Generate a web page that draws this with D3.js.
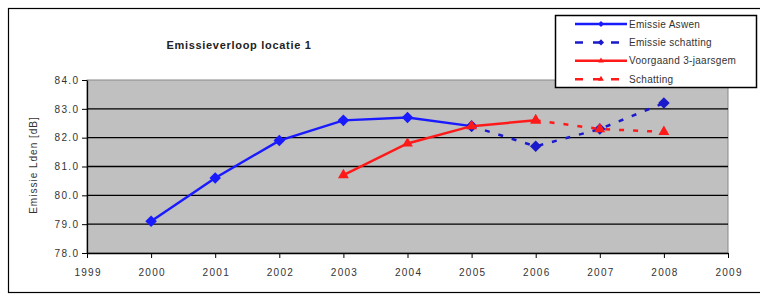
<!DOCTYPE html>
<html>
<head>
<meta charset="utf-8">
<script src="https://cdn.jsdelivr.net/npm/d3@7"></script>
<style>
  body { margin: 0; background: #fff; }
  svg { display: block; font-family: Arial, "Liberation Sans", sans-serif; }
</style>
</head>
<body>
<div id="chart"></div>
<script>
// data
const aswenJaren = [2000, 2001, 2002, 2003, 2004, 2005];
const aswenWaarden = [79.1, 80.6, 81.9, 82.6, 82.7, 82.4];
const schattingJaren = [2005, 2006, 2007, 2008];
const schattingWaarden = [82.4, 81.7, 82.3, 83.2];
const gemJaren = [2003, 2004, 2005, 2006];
const gemWaarden = [80.7, 81.8, 82.4, 82.6];
const gemSchatJaren = [2006, 2007, 2008];
const gemSchatWaarden = [82.6, 82.3, 82.2];
const xTicks = [1999, 2000, 2001, 2002, 2003, 2004, 2005, 2006, 2007, 2008, 2009];
const yTicks = [78, 79, 80, 81, 82, 83, 84];
const legendLabels = ['Emissie Aswen', 'Emissie schatting', 'Voorgaand 3-jaarsgem', 'Schatting'];

const W = 760, H = 297;
const margin = {top: 80, right: 32, bottom: 44, left: 87};
const width = W - margin.left - margin.right;
const height = H - margin.top - margin.bottom;

const svg = d3.select('#chart').append('svg')
    .attr('width', W)
    .attr('height', H);

// outer frame
svg.append('rect')
    .attr('x', 8.5).attr('y', 8.5)
    .attr('width', W).attr('height', 284)
    .attr('fill', '#fff')
    .attr('stroke', '#000')
    .attr('stroke-width', 1.2);

svg.append('text')
    .attr('x', 239).attr('y', 49)
    .attr('text-anchor', 'middle')
    .attr('font-size', 11)
    .attr('font-weight', 'bold')
    .attr('letter-spacing', 0.7)
    .attr('fill', '#222')
    .text('Emissieverloop locatie 1');

const g = svg.append('g')
    .attr('transform', `translate(${margin.left},${margin.top})`);

const x = d3.scaleLinear().domain([1999, 2009]).range([0, width]);
const y = d3.scaleLinear().domain([78, 84]).range([height, 0]);

g.append('rect')
    .attr('width', width).attr('height', height)
    .attr('fill', '#c0c0c0')
    .attr('stroke', '#888');

// gridlines
g.selectAll('.grid')
    .data(yTicks.filter(d => d > 78 && d < 84))
    .enter().append('line')
    .attr('x1', 0).attr('x2', width)
    .attr('y1', d => y(d)).attr('y2', d => y(d))
    .attr('stroke', '#000')
    .attr('stroke-width', 1.3);

const xAxis = g.append('g')
    .attr('transform', `translate(0,${height})`)
    .call(d3.axisBottom(x).tickValues(xTicks).tickFormat(d3.format('d')).tickSize(5).tickSizeOuter(0));
xAxis.selectAll('text')
    .attr('font-size', 10).attr('letter-spacing', 1.3)
    .attr('fill', '#333').attr('dy', '1.45em').attr('dx', 0.6);

const yAxis = g.append('g')
    .call(d3.axisLeft(y).tickValues(yTicks).tickFormat(d3.format('.1f')).tickSize(5).tickSizeOuter(0));
yAxis.selectAll('text')
    .attr('font-size', 10).attr('letter-spacing', 1.4)
    .attr('fill', '#333').attr('dx', 0.5);
svg.selectAll('.domain').attr('stroke', '#000').attr('stroke-width', 1.3);
svg.selectAll('.tick line').attr('stroke', '#000');

svg.append('text')
    .attr('transform', `translate(37,165) rotate(-90)`)
    .attr('text-anchor', 'middle')
    .attr('font-size', 10)
    .attr('letter-spacing', 1)
    .attr('fill', '#333')
    .text('Emissie Lden [dB]');

const line = d3.line()
    .x(d => x(d[0]))
    .y(d => y(d[1]));

const series = [
  {jaren: aswenJaren, waarden: aswenWaarden, color: '#1a1aff', dash: null, marker: 'diamond'},
  {jaren: schattingJaren, waarden: schattingWaarden, color: '#1a1acc', dash: '5,9', marker: 'diamond'},
  {jaren: gemJaren, waarden: gemWaarden, color: '#ff1a1a', dash: null, marker: 'triangle'},
  {jaren: gemSchatJaren, waarden: gemSchatWaarden, color: '#ff1a1a', dash: '5,9', marker: 'triangle'}
];

function markerPath(type, size) {
  return d3.symbol()
    .type(type === 'diamond' ? d3.symbolDiamond2 : d3.symbolTriangle2)
    .size(size)();
}

series.forEach(s => {
  const pts = s.jaren.map((j, i) => [j, s.waarden[i]]);
  g.append('path')
      .datum(pts)
      .attr('fill', 'none')
      .attr('stroke', s.color)
      .attr('stroke-width', 2.5)
      .attr('stroke-dasharray', s.dash)
      .attr('d', line);
  g.selectAll(null)
      .data(pts)
      .enter().append('path')
      .attr('d', markerPath(s.marker, 85))
      .attr('transform', d => `translate(${x(d[0])},${y(d[1])})`)
      .attr('fill', s.color);
});

// legend
const leg = svg.append('g');
leg.append('rect')
    .attr('x', 555.5).attr('y', 15.5)
    .attr('width', 201).attr('height', 72)
    .attr('fill', '#fff')
    .attr('stroke', '#000')
    .attr('stroke-width', 1.5);

const legRow = leg.selectAll('.row')
    .data(series)
    .enter().append('g')
    .attr('transform', (d, i) => `translate(0,${24 + i * 18.4})`);
legRow.append('line')
    .attr('x1', 575).attr('x2', 627)
    .attr('stroke', d => d.color)
    .attr('stroke-width', 2.5)
    .attr('stroke-dasharray', d => d.dash ? '8,10' : null);
legRow.append('path')
    .attr('d', d => markerPath(d.marker, 24))
    .attr('transform', 'translate(601,0)')
    .attr('fill', d => d.color);
legRow.append('text')
    .attr('x', 629).attr('y', 3.5)
    .attr('font-size', 10)
    .attr('letter-spacing', 0.3)
    .attr('fill', '#333')
    .text((d, i) => legendLabels[i]);
</script>
</body>
</html>
